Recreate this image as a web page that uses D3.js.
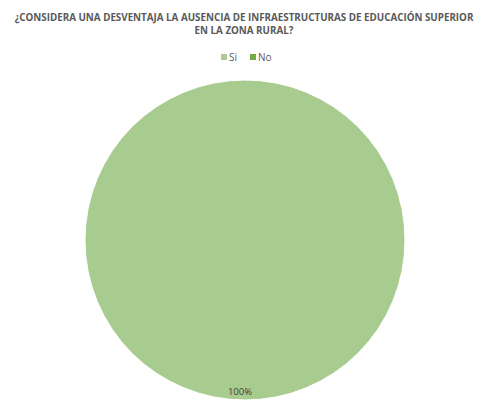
<!DOCTYPE html>
<html><head><meta charset="utf-8">
<script src="https://cdn.jsdelivr.net/npm/d3@7"></script>
<style>body{margin:0;background:#fff;} svg{display:block;}</style>
</head><body>
<svg id="c" width="481" height="403"></svg>
<script>
const titleLines = ["¿CONSIDERA UNA DESVENTAJA LA AUSENCIA DE INFRAESTRUCTURAS DE EDUCACIÓN SUPERIOR", "EN LA ZONA RURAL?"];
const categories = ["Si", "No"];
const values = [100, 0];
const colors = ["#a8cc8f", "#70ad47"];

const svg = d3.select("#c");
const cx = 245, cy = 240, r = 160;

titleLines.forEach((t, i) => {
  svg.append("text").attr("x", 244).attr("y", 21 + i * 13)
    .attr("text-anchor", "middle").attr("font-family", "Open Sans, sans-serif")
    .attr("font-weight", "bold").attr("font-size", 9.8).attr("fill", "#595959")
    .text(t);
});

const legend = svg.append("g").attr("transform", "translate(221,54)");
let lx = 0;
categories.forEach((c, i) => {
  const g = legend.append("g").attr("transform", `translate(${lx},0)`);
  g.append("rect").attr("width", 6).attr("height", 6).attr("y", 0).attr("fill", colors[i]);
  const t = g.append("text").attr("x", 8).attr("y", 7).attr("font-family", "Open Sans, sans-serif")
    .attr("font-size", 10).attr("fill", "#595959").text(c);
  lx += 8 + t.node().getComputedTextLength() + 13;
});

const total = d3.sum(values);
const pie = d3.pie().sort(null).value(d => d.v);
const data = pie(categories.map((c, i) => ({c, v: values[i], i})));
const arc = d3.arc().innerRadius(0).outerRadius(r);
const g = svg.append("g").attr("transform", `translate(${cx},${cy})`);
g.selectAll("path").data(data.filter(d => d.data.v > 0)).join("path")
  .attr("d", arc).attr("fill", d => colors[d.data.i]).attr("stroke", "#fff").attr("stroke-width", 1);
g.selectAll("text.lbl").data(data.filter(d => d.data.v > 0)).join("text").attr("class", "lbl")
  .attr("x", -5).attr("y", r - 5).attr("text-anchor", "middle")
  .attr("font-family", "Open Sans, sans-serif").attr("font-size", 9.5).attr("fill", "#404040")
  .text(d => Math.round(d.data.v / total * 100) + "%");
</script>
</body></html>
